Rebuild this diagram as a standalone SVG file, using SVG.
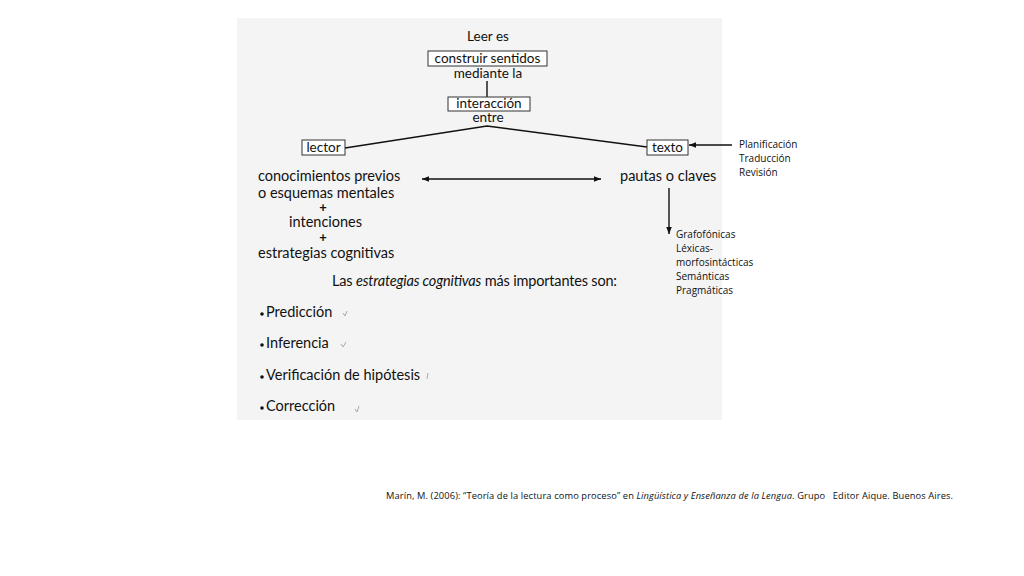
<svg xmlns="http://www.w3.org/2000/svg" width="1024" height="576" viewBox="0 0 1024 576">
<defs>
<style>
.t{font-family:Lato,"Open Sans",sans-serif;font-size:13.5px;fill:#111}
.b{font-family:Lato,"Open Sans",sans-serif;font-size:14.5px;fill:#111}
.p{font-family:Lato,"Open Sans",sans-serif;font-size:13px;font-weight:bold;fill:#111}
.c{font-family:"Open Sans","Liberation Sans",sans-serif;font-size:10px;fill:#111}
.f{font-family:"Open Sans","Liberation Sans",sans-serif;font-size:9.3px;fill:#111;white-space:pre}
.box{fill:#fff;stroke:#333;stroke-width:1}
.ln{stroke:#111;stroke-width:1.4;fill:none}
.tick{stroke:#aaa;stroke-width:1;fill:none}
</style>
<marker id="ah" viewBox="0 0 10 10" refX="10" refY="5" markerWidth="7" markerHeight="7" orient="auto-start-reverse" markerUnits="userSpaceOnUse">
<path d="M0,1 L10,5 L0,9 Z" fill="#111"/>
</marker>
</defs>
<rect width="1024" height="576" fill="#fff"/>
<rect x="237" y="18" width="485" height="402" fill="#f4f4f4"/>

<g id="connectors">
<line class="ln" x1="487" y1="81" x2="487" y2="97"/>
<polyline class="ln" points="345,148 487,126 647,147"/>
<line class="ln" x1="732" y1="145" x2="689" y2="145" marker-end="url(#ah)"/>
<line class="ln" x1="422" y1="179" x2="601" y2="179" marker-start="url(#ah)" marker-end="url(#ah)"/>
<line class="ln" x1="669" y1="188" x2="669" y2="234" marker-end="url(#ah)"/>
</g>

<g id="leer"><text class="t" x="488" y="41" text-anchor="middle">Leer es</text></g>
<g id="construir">
<rect class="box" x="428" y="51" width="119" height="15"/>
<text class="t" x="487.5" y="63" text-anchor="middle">construir sentidos</text>
</g>
<g id="mediante"><text class="t" x="488" y="77.5" text-anchor="middle">mediante la</text></g>
<g id="interaccion">
<rect class="box" x="448" y="97" width="82" height="14"/>
<text class="t" x="489" y="107.5" text-anchor="middle">interacción</text>
</g>
<g id="entre"><text class="t" x="488" y="122" text-anchor="middle">entre</text></g>
<g id="lector">
<rect class="box" x="302" y="140" width="43" height="15"/>
<text class="t" x="323.5" y="152" text-anchor="middle">lector</text>
</g>
<g id="texto">
<rect class="box" x="647" y="140" width="41" height="15"/>
<text class="t" x="667.5" y="152" text-anchor="middle">texto</text>
</g>
<g id="planificacion">
<text class="c" x="739" y="148">Planificación</text>
<text class="c" x="739" y="162">Traducción</text>
<text class="c" x="739" y="176">Revisión</text>
</g>
<g id="lectorside">
<text class="b" x="258" y="181">conocimientos previos</text>
<text class="b" x="258" y="198">o esquemas mentales</text>
<text class="p" x="323" y="212" text-anchor="middle">+</text>
<text class="b" x="289" y="227">intenciones</text>
<text class="p" x="323" y="242" text-anchor="middle">+</text>
<text class="b" x="258" y="258">estrategias cognitivas</text>
</g>
<g id="pautas"><text class="b" x="620" y="181">pautas o claves</text></g>
<g id="claves">
<text class="c" x="676" y="238">Grafofónicas</text>
<text class="c" x="676" y="252">Léxicas-</text>
<text class="c" x="676" y="266">morfosintácticas</text>
<text class="c" x="676" y="280">Semánticas</text>
<text class="c" x="676" y="294">Pragmáticas</text>
</g>
<g id="titulo"><text class="b" x="332" y="286" textLength="285">Las <tspan font-style="italic">estrategias cognitivas</tspan> más importantes son:</text></g>
<g id="lista">
<circle cx="262" cy="314" r="1.8" fill="#111"/>
<text class="b" x="266" y="317">Predicción</text>
<circle cx="262" cy="345" r="1.8" fill="#111"/>
<text class="b" x="266" y="348">Inferencia</text>
<circle cx="262" cy="377" r="1.8" fill="#111"/>
<text class="b" x="266" y="380">Verificación de hipótesis</text>
<circle cx="262" cy="408" r="1.8" fill="#111"/>
<text class="b" x="266" y="411">Corrección</text>
<path class="tick" d="M343,313 L345,316 L347,311"/>
<path class="tick" d="M341,344 L343,347 L346,342"/>
<path class="tick" d="M428,373 L427,379"/>
<path class="tick" d="M355,409 L357,412 L359,406"/>
</g>
<g id="referencia">
<text class="f" x="386" y="499" textLength="567">Marín, M. (2006): “Teoría de la lectura como proceso” en <tspan font-style="italic">Lingüística y Enseñanza de la Lengua</tspan>. Grupo   Editor Aique. Buenos Aires.</text>
</g>
</svg>
